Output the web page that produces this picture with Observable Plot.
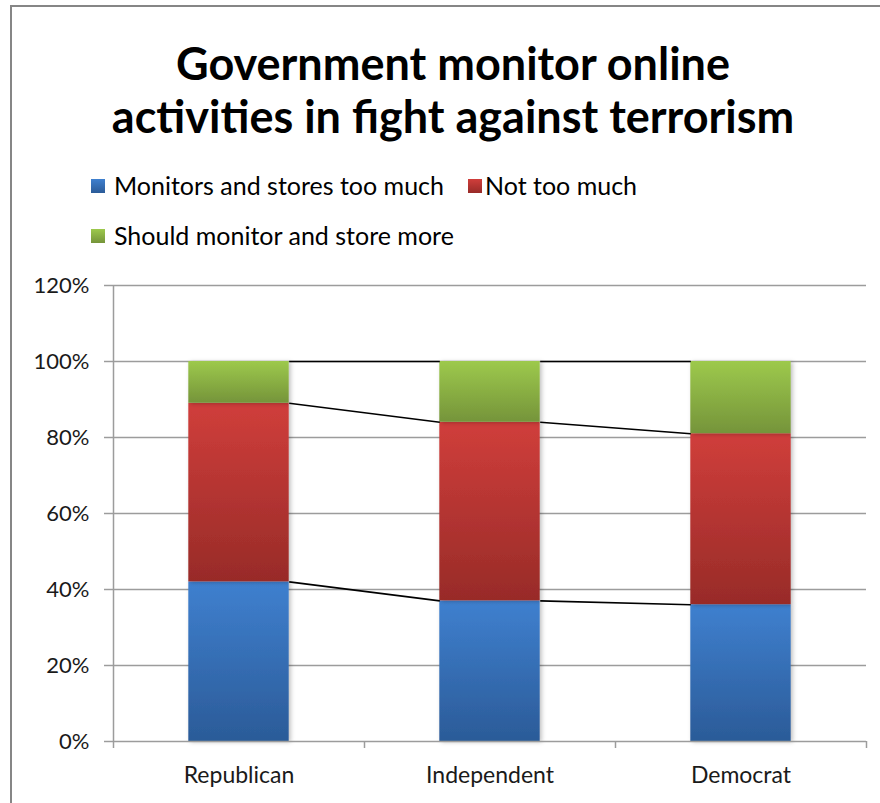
<!DOCTYPE html>
<html>
<head>
<meta charset="utf-8">
<script src="https://cdn.jsdelivr.net/npm/d3@7"></script>
<script src="https://cdn.jsdelivr.net/npm/@observablehq/plot@0.6"></script>
<style>
  html, body { margin: 0; padding: 0; background: #fff; width: 880px; height: 803px; overflow: hidden; }
  body { position: relative; font-family: Lato, "Open Sans", sans-serif; color: #000; }
  #frame { position: absolute; left: 10px; top: 5px; width: 900px; height: 900px; border-left: 2px solid #868686; border-top: 2px solid #868686; box-sizing: border-box; }
  #title { position: absolute; left: 0; width: 906px; top: 37px; text-align: center; font-weight: 700; font-size: 45px; line-height: 53px; }
  .leg { position: absolute; font-size: 25px; line-height: 28px; white-space: nowrap; }
  .sw { position: absolute; width: 14px; height: 14px; }
  #chart { position: absolute; left: 0; top: 260px; }
</style>
</head>
<body>
<div id="frame"></div>
<div id="title">Government monitor online<br>activities in fight against terrorism</div>
<div id="legend"></div>
<div id="chart"></div>
<script>
// ---- data ----
const categories = ["Republican", "Independent", "Democrat"];
const seriesNames = ["Monitors and stores too much", "Not too much", "Should monitor and store more"];
const tooMuch = [42, 37, 36];
const notTooMuch = [47, 47, 45];
const storeMore = [11, 16, 19];
const yTicks = [0, 20, 40, 60, 80, 100, 120];

const seriesValues = [tooMuch, notTooMuch, storeMore];
const gradIds = ["gBlue", "gRed", "gGreen"];

// stacked table
const rows = [];
categories.forEach((c, i) => {
  let acc = 0;
  seriesValues.forEach((vals, s) => {
    rows.push({cat: c, i, s, y1: acc, y2: acc + vals[i]});
    acc += vals[i];
  });
});
// connector lines between adjacent bars at each series' top
const links = [];
for (let s = 0; s < seriesValues.length; s++) {
  for (let i = 0; i < categories.length - 1; i++) {
    const a = rows.find(r => r.i === i && r.s === s);
    const b = rows.find(r => r.i === i + 1 && r.s === s);
    links.push({x1: i + 0.2, x2: i + 0.8, y1: a.y2, y2: b.y2});
  }
}
const bandEdges = d3.range(-0.5, categories.length, 1);
const half = 0.2;

const plot = Plot.plot({
  width: 880,
  height: 543,
  marginLeft: 113,
  marginRight: 14,
  marginTop: 25,
  marginBottom: 62,
  style: {fontFamily: "Lato, 'Open Sans', sans-serif", fontSize: "20px", color: "#000", background: "transparent"},
  x: {type: "linear", domain: [-0.5, categories.length - 0.5], axis: null},
  y: {domain: [0, 120], axis: null},
  marks: [
    Plot.ruleY(yTicks.filter(t => t > 0), {x1: -0.5, x2: categories.length - 0.5, stroke: "#9c9c9c", strokeWidth: 1.3}),
    ...seriesValues.map((_, s) =>
      Plot.rect(rows.filter(r => r.s === s), {x1: d => d.i - half, x2: d => d.i + half, y1: "y1", y2: "y2", fill: `url(#${gradIds[s]})`})
    ),
    Plot.link(links, {x1: "x1", x2: "x2", y1: "y1", y2: "y2", stroke: "#000", strokeWidth: 1.6}),
    Plot.ruleX([-0.5], {y1: 0, y2: 120, stroke: "#9c9c9c", strokeWidth: 1.5}),
    Plot.ruleY([0], {x1: -0.5, x2: categories.length - 0.5, stroke: "#9c9c9c", strokeWidth: 1.5}),
    Plot.axisY({ticks: yTicks, tickFormat: d => d + "%", tickSize: 9, tickPadding: 15, stroke: "#9c9c9c", strokeWidth: 1.5, fill: "#1a1a1a", fontSize: 22}),
    Plot.axisX({ticks: bandEdges, tickFormat: () => "", tickSize: 7, stroke: "#9c9c9c", strokeWidth: 1.5}),
    Plot.axisX({ticks: d3.range(categories.length), tickFormat: i => categories[i], tickSize: 0, tickPadding: 25, fill: "#1a1a1a", fontSize: 23})
  ]
});

// gradients and shadow
const ns = "http://www.w3.org/2000/svg";
const defs = document.createElementNS(ns, "defs");
const gradColors = {gBlue: ["#3f80cf", "#2b5b98"], gRed: ["#d03e3b", "#982b28"], gGreen: ["#9dc94c", "#75943a"]};
for (const [id, [top, bot]] of Object.entries(gradColors)) {
  const g = document.createElementNS(ns, "linearGradient");
  g.setAttribute("id", id);
  g.setAttribute("x1", "0"); g.setAttribute("y1", "0"); g.setAttribute("x2", "0"); g.setAttribute("y2", "1");
  [[0, top], [1, bot]].forEach(([o, c]) => {
    const st = document.createElementNS(ns, "stop");
    st.setAttribute("offset", o); st.setAttribute("stop-color", c);
    g.appendChild(st);
  });
  defs.appendChild(g);
}
const f = document.createElementNS(ns, "filter");
f.setAttribute("id", "shadow"); f.setAttribute("x", "-10%"); f.setAttribute("y", "-10%"); f.setAttribute("width", "130%"); f.setAttribute("height", "130%");
const ds = document.createElementNS(ns, "feDropShadow");
ds.setAttribute("dx", "2"); ds.setAttribute("dy", "1"); ds.setAttribute("stdDeviation", "2"); ds.setAttribute("flood-color", "#000"); ds.setAttribute("flood-opacity", "0.25");
f.appendChild(ds); defs.appendChild(f);
plot.insertBefore(defs, plot.firstChild);
plot.querySelectorAll('g[aria-label="rect"]').forEach(g => g.setAttribute("filter", "url(#shadow)"));
document.getElementById("chart").appendChild(plot);

// legend
const legendPos = [{sx: 91, tx: 114, y: 186}, {sx: 468, tx: 485, y: 186}, {sx: 91, tx: 114, y: 236}];
const leg = document.getElementById("legend");
seriesNames.forEach((name, s) => {
  const p = legendPos[s];
  const sw = document.createElement("div");
  sw.className = "sw";
  sw.style.left = p.sx + "px"; sw.style.top = (p.y - 7) + "px";
  sw.style.background = `linear-gradient(${gradColors[gradIds[s]][0]}, ${gradColors[gradIds[s]][1]})`;
  leg.appendChild(sw);
  const t = document.createElement("div");
  t.className = "leg";
  t.textContent = name;
  t.style.left = p.tx + "px"; t.style.top = (p.y - 15) + "px";
  leg.appendChild(t);
});
</script>
</body>
</html>
